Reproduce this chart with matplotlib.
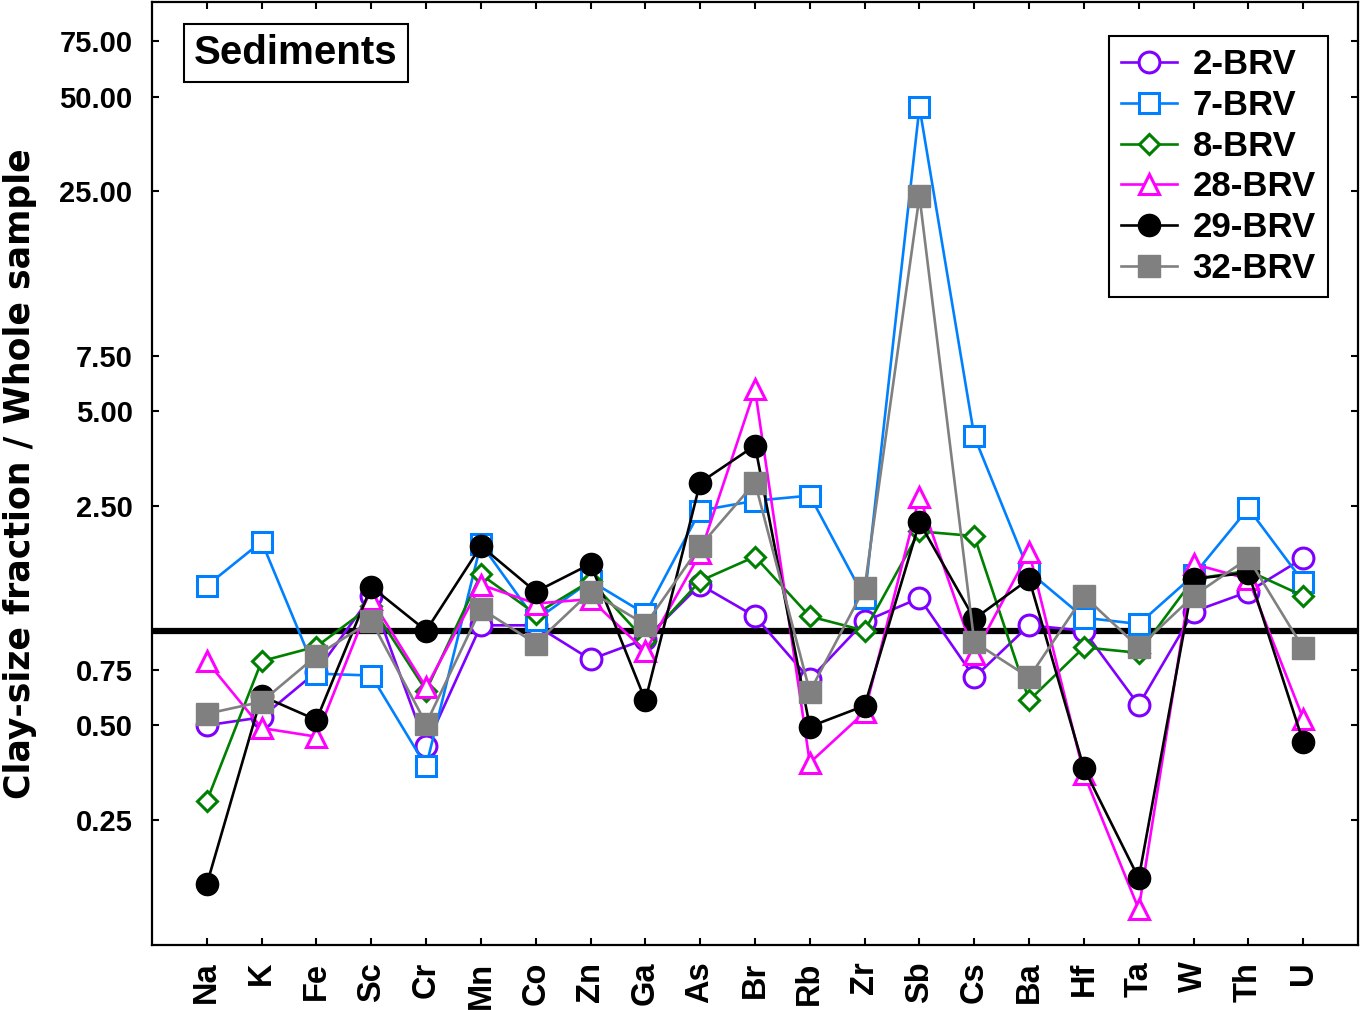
import matplotlib
matplotlib.use("Agg")
import matplotlib.pyplot as plt
from matplotlib.ticker import FixedLocator, NullLocator, FixedFormatter

elements = ["Na", "K", "Fe", "Sc", "Cr", "Mn", "Co", "Zn", "Ga", "As", "Br",
            "Rb", "Zr", "Sb", "Cs", "Ba", "Hf", "Ta", "W", "Th", "U"]

brv2 = [0.50, 0.53, 0.74, 1.29, 0.43, 1.04, 1.04, 0.81, 0.94, 1.40, 1.11,
        0.70, 1.07, 1.27, 0.71, 1.04, 1.00, 0.58, 1.15, 1.33, 1.70]
brv7 = [1.39, 1.92, 0.73, 0.72, 0.37, 1.89, 1.08, 1.44, 1.13, 2.41, 2.59,
        2.69, 1.27, 46.3, 4.15, 1.54, 1.10, 1.05, 1.50, 2.45, 1.43]
brv8 = [0.287, 0.80, 0.89, 1.20, 0.645, 1.51, 1.13, 1.44, 0.93, 1.44, 1.72,
        1.11, 1.00, 2.07, 2.00, 0.60, 0.885, 0.85, 1.46, 1.55, 1.29]
brv28 = [0.80, 0.49, 0.46, 1.26, 0.66, 1.40, 1.22, 1.26, 0.86, 1.76, 5.86,
         0.38, 0.55, 2.67, 0.84, 1.78, 0.35, 0.13, 1.63, 1.46, 0.525]
brv29 = [0.156, 0.62, 0.52, 1.38, 1.00, 1.86, 1.33, 1.63, 0.60, 2.96, 3.88,
         0.495, 0.577, 2.21, 1.09, 1.46, 0.365, 0.163, 1.46, 1.53, 0.443]
brv32 = [0.544, 0.594, 0.832, 1.076, 0.506, 1.175, 0.91, 1.33, 1.045, 1.86, 2.96,
         0.64, 1.37, 24.1, 0.92, 0.71, 1.29, 0.885, 1.29, 1.70, 0.88]

series_names = ["2-BRV", "7-BRV", "8-BRV", "28-BRV", "29-BRV", "32-BRV"]
yticks = [0.25, 0.50, 0.75, 2.50, 5.00, 7.50, 25.00, 50.00, 75.00]
ytick_labels = ["0.25", "0.50", "0.75", "2.50", "5.00", "7.50", "25.00", "50.00", "75.00"]

W, H = 1361, 1010
fig = plt.figure(figsize=(W / 100, H / 100), dpi=100)
ax = fig.add_axes([152 / W, 1 - 945 / H, (1358 - 152) / W, (945 - 2) / H])

x = list(range(len(elements)))

styles = [
    dict(color="#8000FF", marker="o", ms=15, mfc="white", mec="#8000FF", mew=2.2),
    dict(color="#0080FF", marker="s", ms=14, mfc="white", mec="#0080FF", mew=2.2),
    dict(color="#008000", marker="D", ms=10.5, mfc="white", mec="#008000", mew=2.2),
    dict(color="#FF00FF", marker="^", ms=15, mfc="white", mec="#FF00FF", mew=2.2),
    dict(color="black", marker="o", ms=16, mfc="black", mec="black", mew=1.0),
    dict(color="#808080", marker="s", ms=16, mfc="#808080", mec="#808080", mew=1.0),
]
data = [brv2, brv7, brv8, brv28, brv29, brv32]

ax.axhline(1.0, color="black", lw=4.5, zorder=1)

for i, (name, vals, st) in enumerate(zip(series_names, data, styles)):
    ax.plot(x, vals, lw=1.9, label=name, zorder=3 + i, **st)

ax.set_yscale("log")
ax.set_ylim(0.1, 100)
ax.set_xlim(-1, len(elements))

ax.yaxis.set_major_locator(FixedLocator(yticks))
ax.yaxis.set_major_formatter(FixedFormatter(ytick_labels))
ax.yaxis.set_minor_locator(NullLocator())
ax.set_xticks(x)
ax.set_xticklabels(elements, rotation=90, fontsize=23.5, fontweight="bold",
                   family=["Liberation Sans", "DejaVu Sans"])
for lab in ax.get_yticklabels():
    lab.set_fontsize(21)
    lab.set_fontweight("bold")
    lab.set_family(["Liberation Sans", "DejaVu Sans"])

ax.tick_params(axis="both", which="major", direction="in", length=5, width=1.5,
               top=True, right=True)
ax.tick_params(axis="y", pad=14)
ax.tick_params(axis="x", pad=12)
for s in ax.spines.values():
    s.set_linewidth(1.6)

fig.text(20 / W, 1 - 474 / H, "Clay-size fraction / Whole sample", rotation=90,
         ha="center", va="center", fontsize=25, fontweight="bold",
         family=["DejaVu Sans"])

ax.text((296 - 152) / 1206, (945 - 53) / 943, "Sediments", transform=ax.transAxes,
        ha="center", va="center", fontsize=29, fontweight="bold",
        family=["Liberation Sans", "DejaVu Sans"],
        bbox=dict(boxstyle="square,pad=0.26", fc="white", ec="black", lw=1.5),
        zorder=20)

leg = ax.legend(loc="upper right", bbox_to_anchor=((1328 - 152) / 1206, (945 - 36) / 943),
                borderaxespad=0, fancybox=False, framealpha=1, edgecolor="black",
                prop=dict(family=["Liberation Sans", "DejaVu Sans"], weight="bold", size=25),
                handlelength=1.6, handletextpad=0.45, labelspacing=0.22,
                borderpad=0.36)
leg.get_frame().set_linewidth(1.5)
leg.set_zorder(30)

fig.savefig("out.png", dpi=100)
